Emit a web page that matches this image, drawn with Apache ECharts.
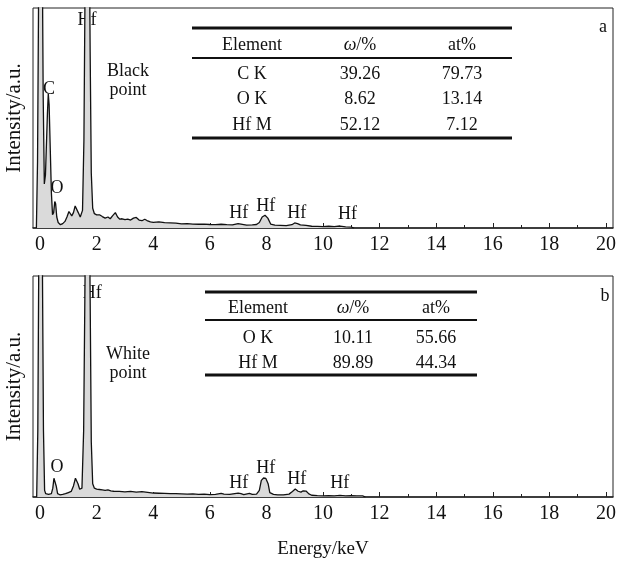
<!DOCTYPE html>
<html><head><meta charset="utf-8">
<script src="https://cdn.jsdelivr.net/npm/echarts@6/dist/echarts.min.js"></script>
<style>html,body{margin:0;padding:0;background:#fff}#c{width:620px;height:561px}</style>
</head><body><div id="c"></div>
<script>
// ---- data ----
const majorTicks = [0, 2, 4, 6, 8, 10, 12, 14, 16, 18, 20];
const minorTicks = [1, 3, 5, 7, 9, 11, 13, 15, 17, 19];

const energyA = [-0.13,-0.09,-0.05,-0.01,0.03,0.07,0.11,0.15,0.19,0.22,0.26,0.29,0.32,0.36,0.40,0.44,0.48,0.52,0.55,0.59,0.64,0.72,0.80,0.88,0.95,1.02,1.06,1.12,1.18,1.24,1.29,1.35,1.42,1.50,1.55,1.59,1.63,1.68,1.73,1.77,1.81,1.86,1.92,2.00,2.10,2.20,2.30,2.40,2.48,2.56,2.66,2.74,2.82,2.90,3.00,3.10,3.20,3.30,3.40,3.50,3.60,3.70,3.78,3.90,4.00,4.20,4.40,4.60,4.80,5.00,5.20,5.40,5.60,5.80,6.00,6.20,6.40,6.60,6.80,7.00,7.10,7.30,7.50,7.65,7.75,7.85,7.95,8.05,8.15,8.30,8.50,8.70,8.90,9.00,9.10,9.20,9.40,9.60,9.80,10.00,10.20,10.40,10.60,10.80,11.00,11.10];
const intensityA = [0,30,110,150,160,140,60,20,24,36,52,61,56,36,16,6,7,12,11,5,2.5,1.5,2,3,5,7.5,8,5.5,7,10,10.5,7,5,8,40,110,150,170,150,80,25,9,6.5,6,6,5.2,4.5,5,4.2,5.5,7,5,4,4.2,3.8,4,3.6,4.5,4.8,3.6,3.3,4,3.4,2.8,2.6,2.8,2.4,2.3,2.2,1.9,2.0,1.8,1.7,1.8,1.6,1.5,1.7,1.5,1.4,2.0,1.8,1.3,1.4,1.6,2.5,5,5.8,4.5,1.8,1.3,1.2,1.1,1.5,2.3,2.0,1.4,1.2,0.8,0.7,0.6,0.8,0.6,0.9,0.5,0.4,0];

const energyB = [-0.12,-0.08,-0.04,0.0,0.04,0.08,0.12,0.16,0.20,0.30,0.40,0.45,0.49,0.53,0.57,0.62,0.70,0.80,0.90,1.00,1.10,1.18,1.25,1.29,1.34,1.40,1.48,1.54,1.59,1.63,1.68,1.73,1.77,1.81,1.86,1.92,2.00,2.10,2.20,2.30,2.40,2.50,2.60,2.80,3.00,3.20,3.40,3.60,3.80,4.00,4.20,4.40,4.60,4.80,5.00,5.20,5.40,5.60,5.80,6.00,6.20,6.40,6.50,6.70,7.00,7.10,7.20,7.40,7.50,7.65,7.75,7.82,7.90,7.98,8.06,8.12,8.25,8.40,8.60,8.80,8.92,9.02,9.12,9.22,9.30,9.40,9.50,9.60,9.80,10.00,10.20,10.40,10.60,10.80,11.00,11.20,11.40,11.50];
const intensityB = [0,30,120,160,150,110,30,3,1.5,1.2,1.5,4,8.5,9,5,1.5,1,1.2,1.5,2,2.5,5,8.5,9.2,6,3.5,4,30,100,150,170,150,90,25,6,4,3.6,3.4,3.2,3.0,3.2,2.8,2.6,2.5,2.3,2.5,2.2,2.4,2.1,1.8,1.7,1.6,1.5,1.5,1.4,1.3,1.4,1.2,1.3,1.1,1.2,1.6,1.3,1.2,1.8,1.5,1.1,1.6,1.2,1.3,3,7.5,8.6,8.4,6,2,1.2,1,1,1.3,2.5,3.6,2.6,2.2,2.8,2.7,1.4,0.8,0.6,0.5,0.6,0.5,0.7,0.5,0.6,0.5,0.5,0];

const peakLabelsA = ['Hf','C','O','Hf','Hf','Hf','Hf'];
const peakLabelEA = [1.66,0.32,0.60,7.02,7.98,9.07,10.87];
const peakLabelIA = [94.5,63.2,18.2,6.8,10.0,6.8,6.4];

const peakLabelsB = ['Hf','O','Hf','Hf','Hf','Hf'];
const peakLabelEB = [1.84,0.60,7.02,7.98,9.07,10.59];
const peakLabelIB = [92.3,13.6,6.3,13.1,8.1,6.3];

const tableHeaders = ['Element', '{i|ω}/%', 'at%'];
const tableAElement = ['C K', 'O K', 'Hf M'];
const tableAOmega = ['39.26', '8.62', '52.12'];
const tableAAt = ['79.73', '13.14', '7.12'];
const tableBElement = ['O K', 'Hf M'];
const tableBOmega = ['10.11', '89.89'];
const tableBAt = ['55.66', '44.34'];

// ---- build ----
const FONT = 'Liberation Serif, Times New Roman, serif';
const TXT = 18;
const pairs = (xs, ys) => xs.map((x, i) => [x, ys[i]]);
const labelPts = (ls, es, is) => ls.map((t, i) => [es[i], is[i], t]);

function xAxes(gridIndex, withName) {
  return [{
    type: 'value', gridIndex, min: -0.25, max: 20.25, position: 'bottom',
    axisLine: { show: true, onZero: false, lineStyle: { color: '#222', width: 1.5 } },
    axisTick: { show: true, inside: true, length: 5, customValues: majorTicks, lineStyle: { color: '#222', width: 1 } },
    axisLabel: { show: true, customValues: majorTicks, margin: 7, fontFamily: FONT, fontSize: 20, color: '#111' },
    splitLine: { show: false },
    name: withName ? 'Energy/keV' : '', nameLocation: 'middle', nameGap: 43,
    nameTextStyle: { fontFamily: FONT, fontSize: 19, color: '#111' }
  }, {
    type: 'value', gridIndex, min: -0.25, max: 20.25, position: 'bottom', offset: 0,
    axisLine: { show: false },
    axisTick: { show: true, inside: true, length: 3, customValues: minorTicks, lineStyle: { color: '#222', width: 1 } },
    axisLabel: { show: false },
    splitLine: { show: false }
  }];
}
function yAxis(gridIndex) {
  return {
    type: 'value', gridIndex, min: 0, max: 100,
    axisLine: { show: false }, axisTick: { show: false }, axisLabel: { show: false }, splitLine: { show: false },
    name: 'Intensity/a.u.', nameLocation: 'middle', nameRotate: 90, nameGap: 8,
    nameTextStyle: { fontFamily: FONT, fontSize: 21, color: '#111' }
  };
}
function spectrum(xi, yi, data) {
  return {
    type: 'line', xAxisIndex: xi, yAxisIndex: yi, data, showSymbol: false, clip: true,
    lineStyle: { color: '#111', width: 1.3 },
    areaStyle: { color: '#dadada', opacity: 1 },
    animation: false
  };
}
function labels(xi, yi, data) {
  return {
    type: 'scatter', xAxisIndex: xi, yAxisIndex: yi, data, symbolSize: 1,
    itemStyle: { color: 'transparent', opacity: 1 }, silent: true, animation: false,
    label: { show: true, position: 'inside', formatter: p => p.value[2], fontFamily: FONT, fontSize: TXT, color: '#111', opacity: 1, textBorderWidth: 0 }
  };
}

function table(x0, x1, yTop, yHead, yBot, cols, headY, rowYs, elements, omegas, ats) {
  const g = [];
  const line = (y, w) => ({ type: 'line', shape: { x1: x0, y1: y, x2: x1, y2: y }, style: { stroke: '#111', lineWidth: w } });
  g.push(line(yTop, 3), line(yHead, 2), line(yBot, 3));
  const txt = (t, x, y) => ({
    type: 'text', x, y, style: {
      text: t, fontFamily: FONT, fontSize: TXT, fill: '#111', align: 'center', verticalAlign: 'middle',
      rich: { i: { fontFamily: FONT, fontSize: TXT, fontStyle: 'italic', fill: '#111' } }
    }
  });
  tableHeaders.forEach((h, i) => g.push(txt(h, cols[i], headY)));
  elements.forEach((e, r) => {
    g.push(txt(e, cols[0], rowYs[r]), txt(omegas[r], cols[1], rowYs[r]), txt(ats[r], cols[2], rowYs[r]));
  });
  return g;
}
function note(t, x, y) {
  return { type: 'text', x, y, style: { text: t, fontFamily: FONT, fontSize: TXT, fill: '#111', align: 'center', verticalAlign: 'middle', lineHeight: 19 } };
}

const graphics = [].concat(
  table(192, 512, 28, 58, 138, [252, 360, 462], 45, [74, 99.5, 125], tableAElement, tableAOmega, tableAAt),
  table(205, 477, 292, 320, 375, [258, 353, 436], 308, [338, 363], tableBElement, tableBOmega, tableBAt),
  [note('Black\npoint', 128, 81), note('a', 603, 27), note('White\npoint', 128, 364), note('b', 605, 296)]
);

const chart = echarts.init(document.getElementById('c'), null, { renderer: 'canvas' });
chart.setOption({
  animation: false,
  backgroundColor: '#fff',
  grid: [
    { left: 33, top: 8, width: 580, height: 220, outerBoundsMode: 'none', containLabel: false, show: true, borderColor: '#222', borderWidth: 1, backgroundColor: 'transparent' },
    { left: 33, top: 276, width: 580, height: 221, outerBoundsMode: 'none', containLabel: false, show: true, borderColor: '#222', borderWidth: 1, backgroundColor: 'transparent' }
  ],
  xAxis: [].concat(xAxes(0, false), xAxes(1, true)),
  yAxis: [yAxis(0), yAxis(1)],
  series: [
    spectrum(0, 0, pairs(energyA, intensityA)),
    spectrum(2, 1, pairs(energyB, intensityB)),
    labels(0, 0, labelPts(peakLabelsA, peakLabelEA, peakLabelIA)),
    labels(2, 1, labelPts(peakLabelsB, peakLabelEB, peakLabelIB))
  ],
  graphic: graphics
});
</script></body></html>
